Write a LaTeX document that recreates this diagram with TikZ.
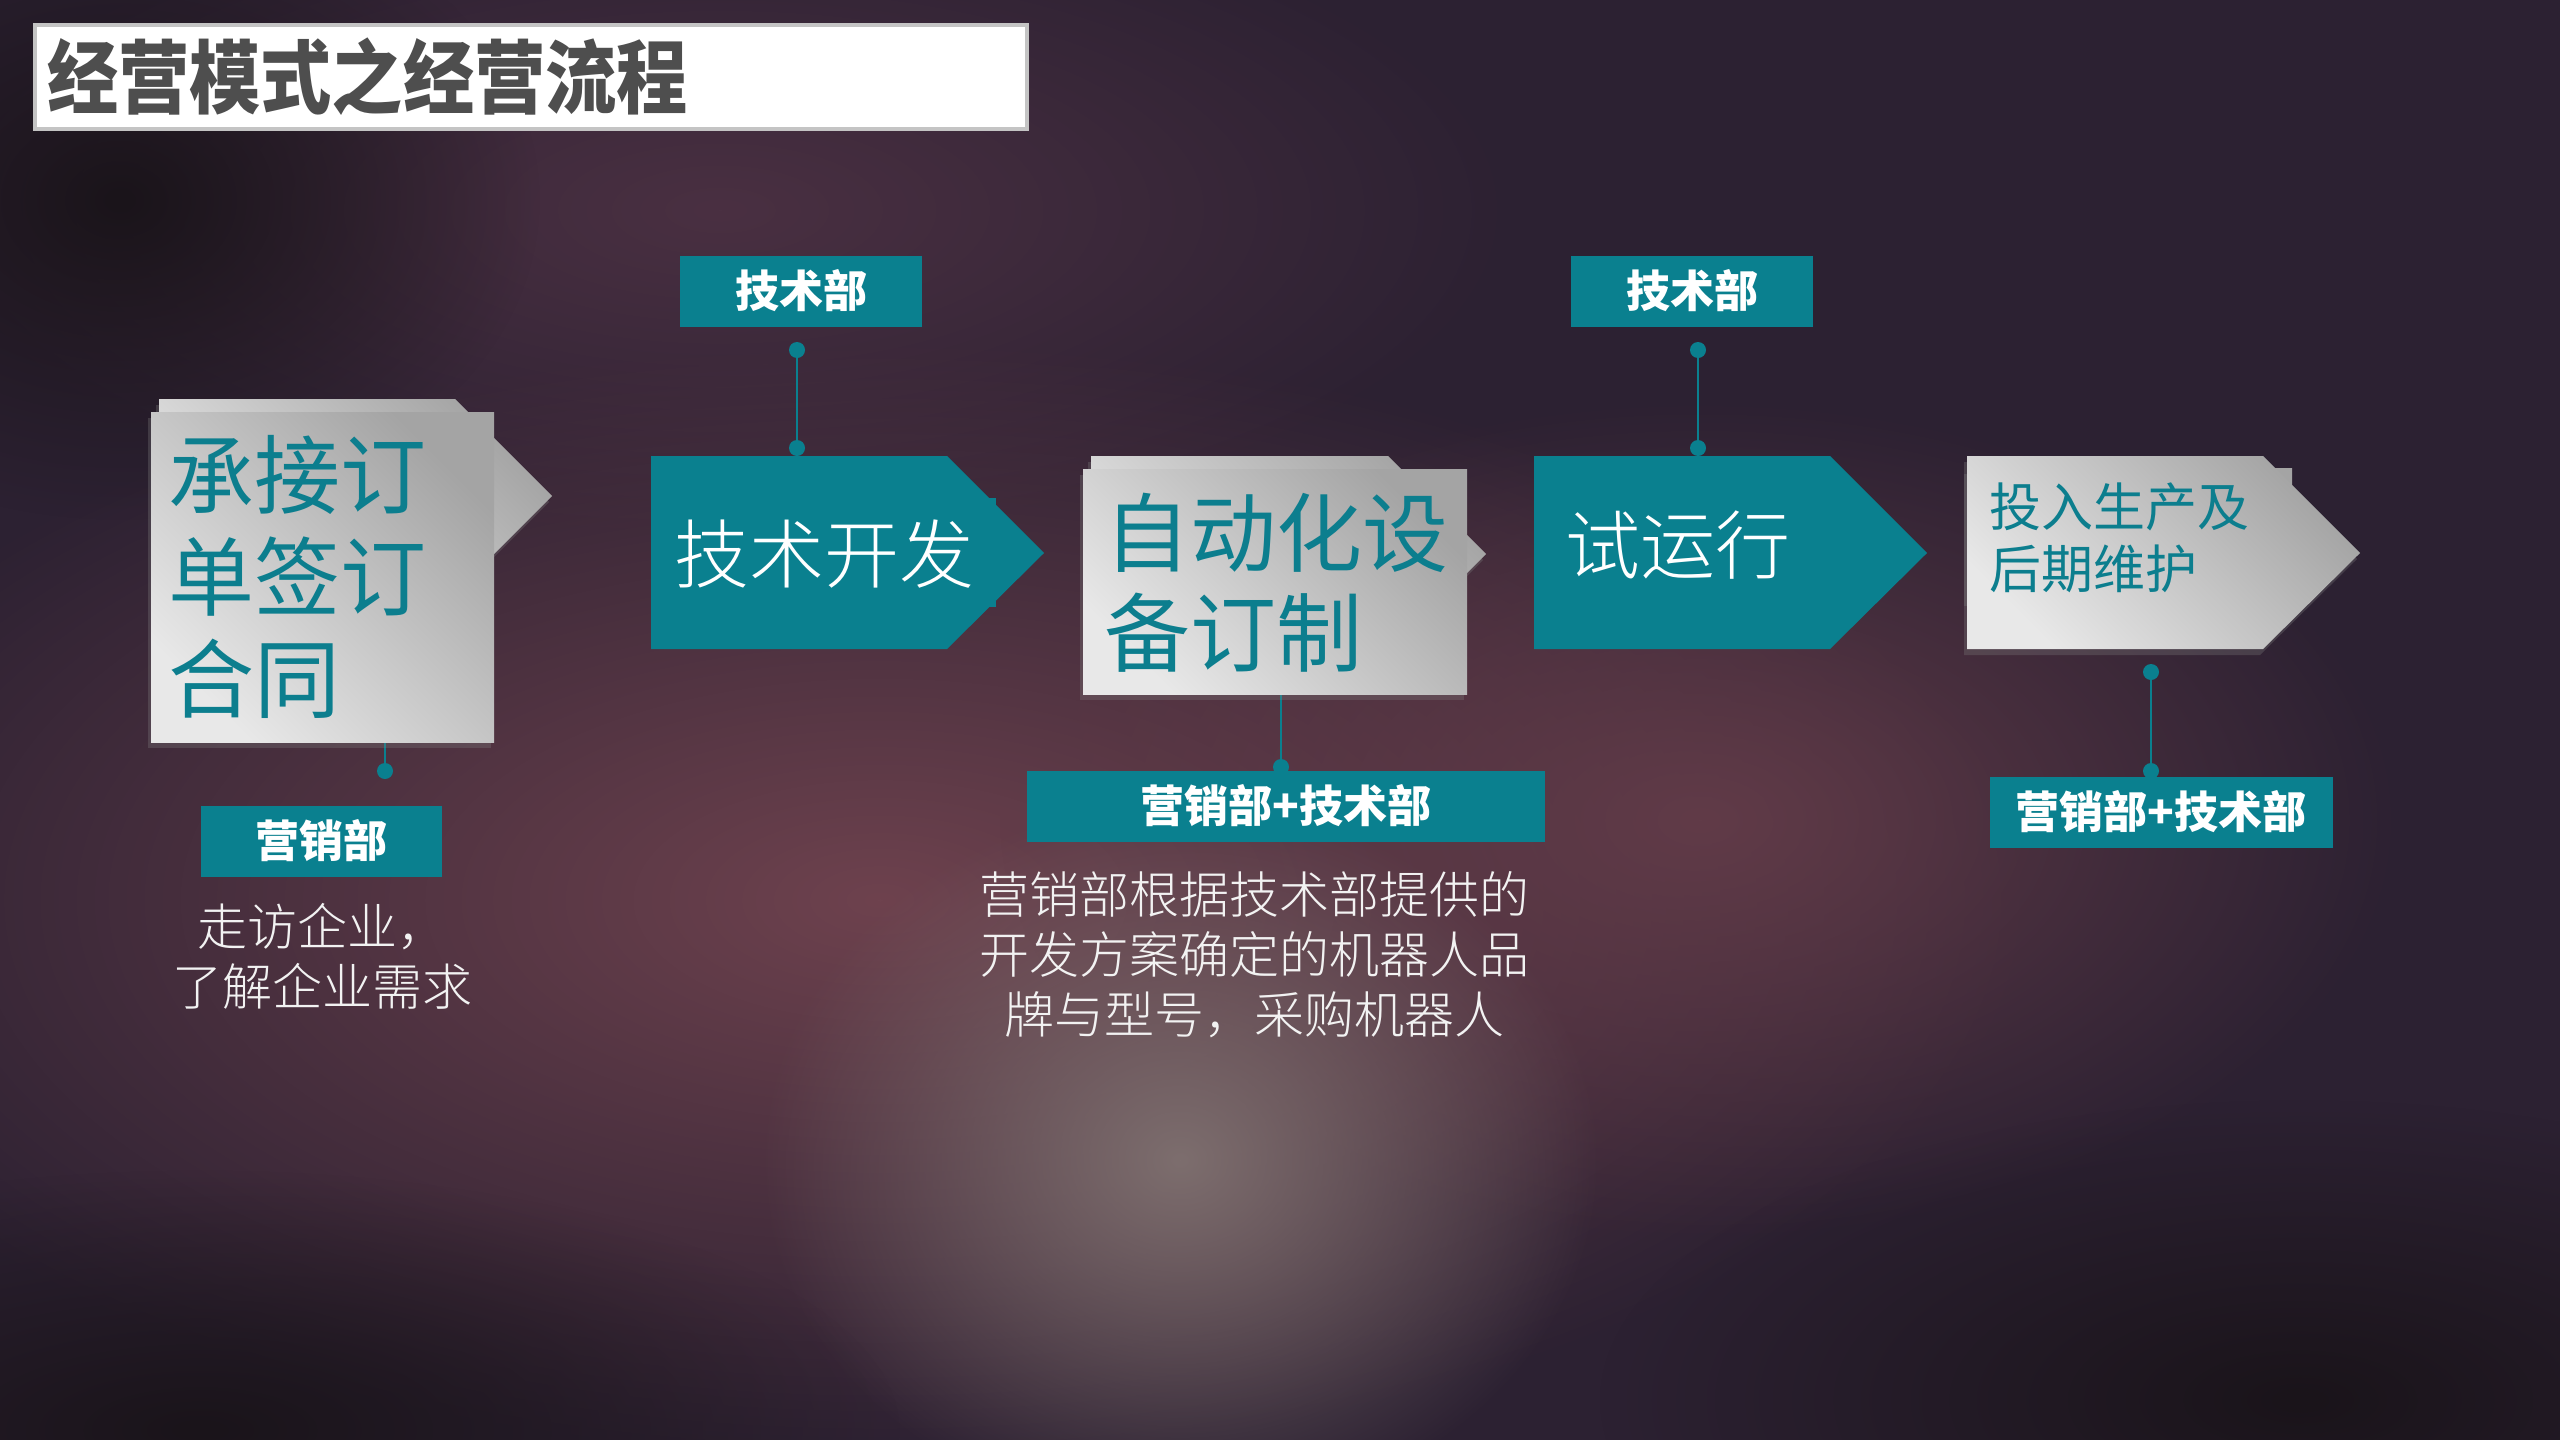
\documentclass[tikz,border=0pt]{standalone}
\usepackage{fontspec}
\setmainfont{Noto Sans CJK SC}
\newfontfamily\titlefont{Noto Sans CJK SC}[FakeStretch=0.89]
\newfontfamily\lightfont{Noto Sans CJK SC Light}
\usepackage{xcolor}
\usepackage{tikz}
\usetikzlibrary{positioning}
\usetikzlibrary{shadows}
\usetikzlibrary{fadings}
\usetikzlibrary{calc}

\definecolor{tealbox}{RGB}{10,128,143}
\definecolor{tealtext}{RGB}{12,126,142}
\definecolor{titlegray}{RGB}{78,78,78}
\definecolor{framegray}{RGB}{196,196,196}
\definecolor{graydark}{RGB}{164,164,164}
\definecolor{graylight}{RGB}{232,232,232}
\definecolor{notewhite}{RGB}{242,242,242}
\definecolor{bgbase}{RGB}{44,33,50}
\definecolor{bgred}{RGB}{110,66,78}
\definecolor{bgplum}{RGB}{74,48,66}
\definecolor{bgglow}{RGB}{125,110,110}
\definecolor{bgdark}{RGB}{26,20,26}

\tikzfading[name=softglow, inner color=transparent!0, outer color=transparent!100]

\begin{document}
\begin{tikzpicture}[>=stealth, x=1pt, y=-1pt,
		graybox/.style={top color=graydark, bottom color=graylight, shading angle=-45,
			drop shadow={shadow xshift=-3pt, shadow yshift=-6pt, opacity=.3}},
		tealshape/.style={fill=tealbox},
		steptext/.style={text=tealtext, align=left, inner sep=0pt},
		dept/.style={fill=tealbox, text=white, inner sep=0pt, minimum height=71pt,
			font=\bfseries\fontsize{44}{50}\selectfont},
		dot/.style={circle, fill=tealbox, minimum size=16pt, inner sep=0pt},
		link/.style={draw=tealbox, line width=2pt},
		note/.style={text=notewhite, align=center, inner sep=0pt, font=\lightfont\fontsize{50}{60}\selectfont}]
		\useasboundingbox (0,0) rectangle (2560,1440);
		
		%background
		\fill[bgbase] (0,0) rectangle (2560,1440);
		\fill[bgplum, path fading=softglow] (720,210) ellipse [x radius=800, y radius=330];
		\fill[bgred, path fading=softglow] (880,900) ellipse [x radius=1150, y radius=560];
		\fill[bgred!80!bgbase, path fading=softglow] (1700,820) ellipse [x radius=700, y radius=420];
		\fill[bgglow, path fading=softglow] (1180,1160) ellipse [x radius=420, y radius=360];
		\fill[bgdark, path fading=softglow] (120,200) ellipse [x radius=420, y radius=320];
		\fill[bgdark, path fading=softglow] (2300,1400) ellipse [x radius=700, y radius=300];
		\fill[bgdark, path fading=softglow] (200,1430) ellipse [x radius=700, y radius=260];
		
		%coordinates
		\coordinate (acceptA) at (159,399);
		\coordinate (devA)    at (651,456);
		\coordinate (customA) at (1091,456);
		\coordinate (trialA)  at (1534,456);
		\coordinate (serviceA) at (1967,456);
		
		%title
		\node[draw=framegray, line width=4pt, fill=white, minimum width=992pt, minimum height=104pt,
			anchor=north west, inner sep=0pt] (titlebox) at (33,23) {};
		\node[right=14pt of titlebox.west, inner sep=0pt, text=titlegray,
			font=\titlefont\bfseries\fontsize{80}{80}\selectfont] (title) {经营模式之经营流程};
		
		%connectors
		\node[dot] (acceptup) at (385,730) {};
		\node[dot] (acceptdn) at (385,771) {};
		\draw[link] (acceptup) -- (acceptdn);
		\node[dot] (devup) at (797,350) {};
		\node[dot] (devdn) at (797,448) {};
		\draw[link] (devup) -- (devdn);
		\node[dot] (customup) at (1281,685) {};
		\node[dot] (customdn) at (1281,767) {};
		\draw[link] (customup) -- (customdn);
		\node[dot] (trialup) at (1698,350) {};
		\node[dot] (trialdn) at (1698,448) {};
		\draw[link] (trialup) -- (trialdn);
		\node[dot] (serviceup) at (2151,672) {};
		\node[dot] (servicedn) at (2151,771) {};
		\draw[link] (serviceup) -- (servicedn);
		
		%steps
		\path[graybox] (acceptA) -- ++(296,0) -- ++(97,97) -- ++(-97,97) -- ++(-296,0) -- cycle;
		\node[graybox, minimum width=343pt, minimum height=330pt, anchor=north west, inner sep=0pt] (accept) at (151,412) {};
		\node[steptext, anchor=north west, font=\fontsize{86}{102}\selectfont] (acceptT) at (168,435) {承接订\\单签订\\合同};
		
		\path[tealshape] (651,498) rectangle (996,607);
		\path[tealshape] (devA) -- ++(296,0) -- ++(97,97) -- ++(-97,96) -- ++(-296,0) -- cycle;
		\node[anchor=west, text=white, inner sep=0pt, font=\lightfont\fontsize{75}{75}\selectfont] (devT) at (674,554) {技术开发};
		
		\path[graybox] (customA) -- ++(297,0) -- ++(98,98) -- ++(-98,98) -- ++(-297,0) -- cycle;
		\node[graybox, minimum width=384pt, minimum height=225pt, anchor=north west, inner sep=0pt] (custom) at (1083,469) {};
		\node[steptext, anchor=north west, font=\fontsize{86}{100}\selectfont] (customT) at (1104,493) {自动化设\\备订制};
		
		\path[tealshape] (trialA) -- ++(296,0) -- ++(97,97) -- ++(-97,96) -- ++(-296,0) -- cycle;
		\node[anchor=west, text=white, inner sep=0pt, font=\lightfont\fontsize{75}{75}\selectfont] (trialT) at (1565,545) {试运行};
		
		\path[graybox] (1967,468) rectangle (2292,600);
		\path[graybox] (serviceA) -- ++(296,0) -- ++(97,97) -- ++(-97,96) -- ++(-296,0) -- cycle;
		\node[steptext, anchor=north west, font=\fontsize{52}{62}\selectfont] (serviceT) at (1989,483) {投入生产及\\后期维护};
		
		%departments
		\node[dept, minimum width=241pt] (acceptD) at (321,841) {营销部};
		\node[dept, minimum width=242pt] (devD) at (801,291) {技术部};
		\node[dept, minimum width=518pt] (customD) at (1286,806) {营销部+技术部};
		\node[dept, minimum width=242pt] (trialD) at (1692,291) {技术部};
		\node[dept, minimum width=343pt] (serviceD) at (2161,812) {营销部+技术部};
		
		%notes
		\node[note] (acceptN) at (322,956) {走访企业，\\了解企业需求};
		\node[note] (customN) at (1254,955) {营销部根据技术部提供的\\开发方案确定的机器人品\\牌与型号，采购机器人};
		\end{tikzpicture}
\end{document}
